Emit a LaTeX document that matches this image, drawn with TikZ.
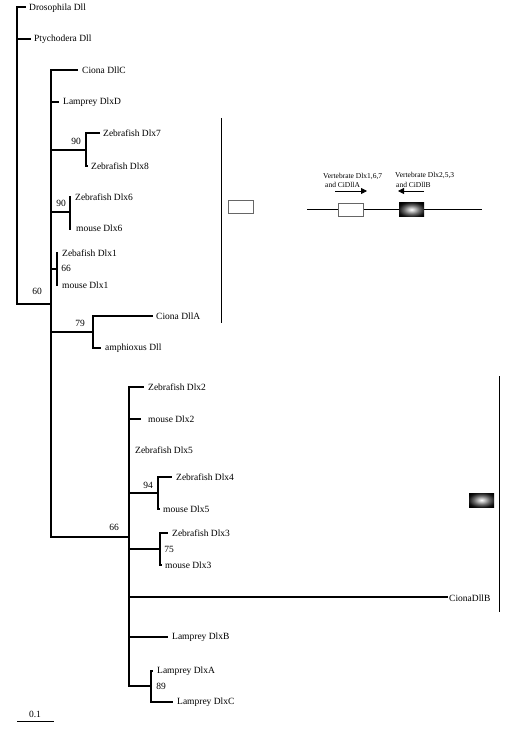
\documentclass[tikz,border=0pt]{standalone}
\usepackage{fontspec}
\setmainfont{Liberation Serif}
\usetikzlibrary{arrows.meta}
\pgfdeclareradialshading{glow}{\pgfpoint{0bp}{0bp}}{color(0bp)=(white); color(7bp)=(black!25); color(16bp)=(black!60); color(26bp)=(black!92); color(32bp)=(black); color(50bp)=(black)}
\tikzset{
  tree/.style={line width=1.4pt, line cap=rect},
  thin/.style={line width=0.8pt},
  leaf/.style={anchor=west, inner sep=0pt, font=\fontsize{9.5}{10}\selectfont},
  boot/.style={inner sep=0pt, font=\fontsize{9.5}{10}\selectfont},
  genetxt/.style={anchor=west, inner sep=0pt, font=\fontsize{7.5}{8}\selectfont},
  whitebox/.style={draw=black!60, line width=0.8pt, fill=white, minimum width=25pt, minimum height=13pt, inner sep=0pt},
  darkbox/.style={shading=glow, minimum width=25pt, minimum height=14pt, inner sep=0pt},
  genearrow/.style={line width=0.8pt, -{Triangle[length=6pt,width=6pt]}}
}
\begin{document}
\begin{tikzpicture}[x=1pt,y=-1pt]
\useasboundingbox (0,0) rectangle (514,730);
% internal nodes
\coordinate (root) at (17,304);
\coordinate (A) at (51,304);
\coordinate (n78) at (86,150);
\coordinate (n6) at (70,212);
\coordinate (n1) at (57,269);
\coordinate (nA) at (93,332);
\coordinate (B) at (129,537);
\coordinate (n45) at (158,493);
\coordinate (n3) at (160,549);
\coordinate (nAC) at (151,686);
% tips
\coordinate (t-dro) at (25,7);
\coordinate (t-pty) at (30,39);
\coordinate (t-cC) at (77,70);
\coordinate (t-lD) at (58,102);
\coordinate (t-z7) at (99,133);
\coordinate (t-z8) at (87,166);
\coordinate (t-z6) at (70,197);
\coordinate (t-m6) at (70,229);
\coordinate (t-z1) at (57,253);
\coordinate (t-m1) at (57,285);
\coordinate (t-cA) at (152,316);
\coordinate (t-am) at (100,348);
\coordinate (t-z2) at (143,387);
\coordinate (t-m2) at (140,419);
\coordinate (t-z4) at (171,477);
\coordinate (t-m5) at (159,509);
\coordinate (t-z3) at (167,533);
\coordinate (t-m3) at (161,565);
\coordinate (t-cB) at (447,597);
\coordinate (t-lB) at (167,637);
\coordinate (t-lA) at (152,671);
\coordinate (t-lC) at (172,702);
% labels
\node[leaf] (l-dro) at (29,8) {Drosophila Dll};
\node[leaf] (l-pty) at (34,39) {Ptychodera Dll};
\node[leaf] (l-cC) at (82,70) {Ciona DllC};
\node[leaf] (l-lD) at (63,102) {Lamprey DlxD};
\node[leaf] (l-z7) at (103,133) {Zebrafish Dlx7};
\node[leaf] (l-z8) at (91,166) {Zebrafish Dlx8};
\node[leaf] (l-z6) at (75,197) {Zebrafish Dlx6};
\node[leaf] (l-m6) at (76,228) {mouse Dlx6};
\node[leaf] (l-z1) at (62,253) {Zebafish Dlx1};
\node[leaf] (l-m1) at (62,285) {mouse Dlx1};
\node[leaf] (l-cA) at (156,316) {Ciona DllA};
\node[leaf] (l-am) at (105,348) {amphioxus Dll};
\node[leaf] (l-z2) at (148,387) {Zebrafish Dlx2};
\node[leaf] (l-m2) at (148,419) {mouse Dlx2};
\node[leaf] (l-z5) at (135,450) {Zebrafish Dlx5};
\node[leaf] (l-z4) at (176,477) {Zebrafish Dlx4};
\node[leaf] (l-m5) at (163,509) {mouse Dlx5};
\node[leaf] (l-z3) at (172,533) {Zebrafish Dlx3};
\node[leaf] (l-m3) at (165,565) {mouse Dlx3};
\node[leaf] (l-cB) at (449,598) {CionaDllB};
\node[leaf] (l-lB) at (172,637) {Lamprey DlxB};
\node[leaf] (l-lA) at (157,671) {Lamprey DlxA};
\node[leaf] (l-lC) at (177,702) {Lamprey DlxC};
% bootstrap values
\node[boot] (b1) at (76,141) {90};
\node[boot] (b2) at (61,203) {90};
\node[boot] (b3) at (66,268) {66};
\node[boot] (b4) at (37,291) {60};
\node[boot] (b5) at (80,323) {79};
\node[boot] (b6) at (114,527) {66};
\node[boot] (b7) at (148,485) {94};
\node[boot] (b8) at (169,549) {75};
\node[boot] (b9) at (161,686) {89};
% tree
\draw[tree] (root) |- (t-dro);
\draw[tree] (root) |- (t-pty);
\draw[tree] (root) -- (A);
\draw[tree] (A) |- (t-cC);
\draw[tree] (A) |- (t-lD);
\draw[tree] (A) |- (n78);
\draw[tree] (n78) |- (t-z7);
\draw[tree] (n78) |- (t-z8);
\draw[tree] (A) |- (n6);
\draw[tree] (n6) -- (t-z6);
\draw[tree] (n6) -- (t-m6);
\draw[tree] (A) |- (n1);
\draw[tree] (n1) -- (t-z1);
\draw[tree] (n1) -- (t-m1);
\draw[tree] (A) |- (nA);
\draw[tree] (nA) |- (t-cA);
\draw[tree] (nA) |- (t-am);
\draw[tree] (A) |- (B);
\draw[tree] (B) |- (t-z2);
\draw[tree] (B) |- (t-m2);
\draw[tree] (B) |- (n45);
\draw[tree] (n45) |- (t-z4);
\draw[tree] (n45) |- (t-m5);
\draw[tree] (B) |- (n3);
\draw[tree] (n3) |- (t-z3);
\draw[tree] (n3) |- (t-m3);
\draw[tree] (B) |- (t-cB);
\draw[tree] (B) |- (t-lB);
\draw[tree] (B) |- (nAC);
\draw[tree] (nAC) |- (t-lA);
\draw[tree] (nAC) |- (t-lC);
% scale bar
\coordinate (s1) at (17,721);
\coordinate (s2) at (54,721);
\draw[thin] (s1) -- (s2);
\node[boot] (sc) at (35,714) {0.1};
% group brackets
\coordinate (g1a) at (221,118);
\coordinate (g1b) at (221,323);
\coordinate (g2a) at (499,376);
\coordinate (g2b) at (499,612);
\draw[thin] (g1a) -- (g1b);
\draw[thin] (g2a) -- (g2b);
\node[whitebox] (wb1) at (240.5,206.5) {};
\node[darkbox] (db1) at (481.5,500) {};
% gene schematic
\coordinate (ga) at (307,209);
\coordinate (gb) at (482,209);
\draw[thin] (ga) -- (gb);
\node[whitebox] (wb2) at (350.5,209.5) {};
\node[darkbox] (db2) at (411.5,209.5) {};
\coordinate (a1s) at (335,191);
\coordinate (a1e) at (367,191);
\coordinate (a2s) at (424,191);
\coordinate (a2e) at (398,191);
\draw[genearrow] (a1s) -- (a1e);
\draw[genearrow] (a2s) -- (a2e);
\node[genetxt] (gt1) at (323,176) {Vertebrate Dlx1,6,7};
\node[genetxt] (gt2) at (325,185) {and CiDllA};
\node[genetxt] (gt3) at (395,175) {Vertebrate Dlx2,5,3};
\node[genetxt] (gt4) at (396,185) {and CiDllB};
\end{tikzpicture}
\end{document}
